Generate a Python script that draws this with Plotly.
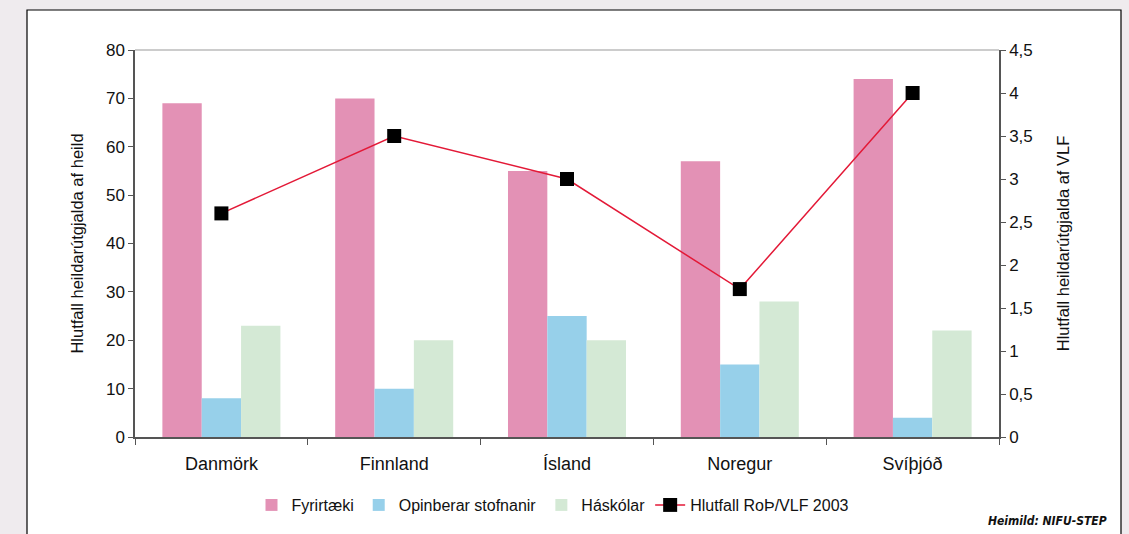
import plotly.graph_objects as go

categories = ["Danmörk", "Finnland", "Ísland", "Noregur", "Svíþjóð"]
fyrirtaeki = [69, 70, 55, 57, 74]
opinberar = [8, 10, 25, 15, 4]
haskolar = [23, 20, 20, 28, 22]
hlutfall_vlf = [2.6, 3.5, 3.0, 1.72, 4.0]

left_ticks = [0, 10, 20, 30, 40, 50, 60, 70, 80]
right_ticks = [0, 0.5, 1, 1.5, 2, 2.5, 3, 3.5, 4, 4.5]
right_ticktext = ["0", "0,5", "1", "1,5", "2", "2,5", "3", "3,5", "4", "4,5"]

FONT = "Liberation Sans, Arial, Helvetica, sans-serif"
W, H = 1129, 534
L, R, T, B = 135, 130, 50, 97
pw, ph = W - L - R, H - T - B

def px_x(x):
    return (x - L) / pw

def px_y(y):
    return (H - B - y) / ph

fig = go.Figure()
fig.add_bar(x=categories, y=fyrirtaeki, name="Fyrirtæki", marker_color="#e391b5", marker_line_width=0)
fig.add_bar(x=categories, y=opinberar, name="Opinberar stofnanir", marker_color="#97d0ea", marker_line_width=0)
fig.add_bar(x=categories, y=haskolar, name="Háskólar", marker_color="#d4e9d5", marker_line_width=0)
fig.add_scatter(x=categories, y=hlutfall_vlf, name="Hlutfall RoÞ/VLF 2003", yaxis="y2",
                mode="lines+markers",
                line=dict(color="#e31937", width=1.5),
                marker=dict(symbol="square", size=14, color="#000000", line=dict(width=0)))

fig.update_layout(
    width=W, height=H,
    margin=dict(l=L, r=R, t=T, b=B, pad=0),
    paper_bgcolor="#efebee",
    plot_bgcolor="#ffffff",
    font=dict(family=FONT, color="#111111", size=17),
    barmode="group",
    bargap=0.317,
    bargroupgap=0,
    showlegend=True,
    legend=dict(orientation="h", x=px_x(553), xanchor="center", y=px_y(505), yanchor="middle",
                font=dict(size=16, family=FONT), bgcolor="rgba(0,0,0,0)",
                itemwidth=30, tracegroupgap=0),
    xaxis=dict(showgrid=False, showline=True, linecolor="#555555", linewidth=1.5,
               ticks="outside", tickson="boundaries", ticklen=6, tickcolor="#555555",
               tickfont=dict(size=18), zeroline=False, ticklabelstandoff=10),
    yaxis=dict(range=[0, 80], tickvals=left_ticks, showgrid=False, showline=True,
               linecolor="#555555", linewidth=1.5, ticks="outside", ticklen=5,
               tickcolor="#555555", tickfont=dict(size=17), zeroline=False,
               title=dict(text="Hlutfall heildarútgjalda af heild", font=dict(size=16.5), standoff=18)),
    yaxis2=dict(range=[0, 4.5], tickvals=right_ticks, ticktext=right_ticktext,
                overlaying="y", side="right", showgrid=False, showline=True,
                linecolor="#555555", linewidth=1.5, ticks="outside", ticklen=5,
                tickcolor="#555555", tickfont=dict(size=17), zeroline=False,
                title=dict(text="Hlutfall heildarútgjalda af VLF", font=dict(size=16.5), standoff=26)),
    shapes=[
        dict(type="rect", xref="paper", yref="paper", layer="below",
             x0=px_x(27), x1=px_x(1121), y0=px_y(10), y1=px_y(560),
             fillcolor="#ffffff", line=dict(color="#000000", width=1.2)),
        dict(type="line", xref="paper", yref="paper", x0=0, x1=1, y0=1, y1=1,
             line=dict(color="#999999", width=1.2)),
    ],
    annotations=[
        dict(text="<b><i>Heimild: NIFU-STEP</i></b>", xref="paper", yref="paper",
             x=px_x(1109), y=px_y(521), xanchor="right", yanchor="middle",
             showarrow=False, font=dict(size=12, family="DejaVu Sans Condensed, Liberation Sans, sans-serif", color="#111111")),
    ],
)

fig.write_html("out.html", config={"displayModeBar": False},
               post_script="document.body.style.margin='0';document.body.style.overflow='hidden';document.body.style.background='#efebee';")
